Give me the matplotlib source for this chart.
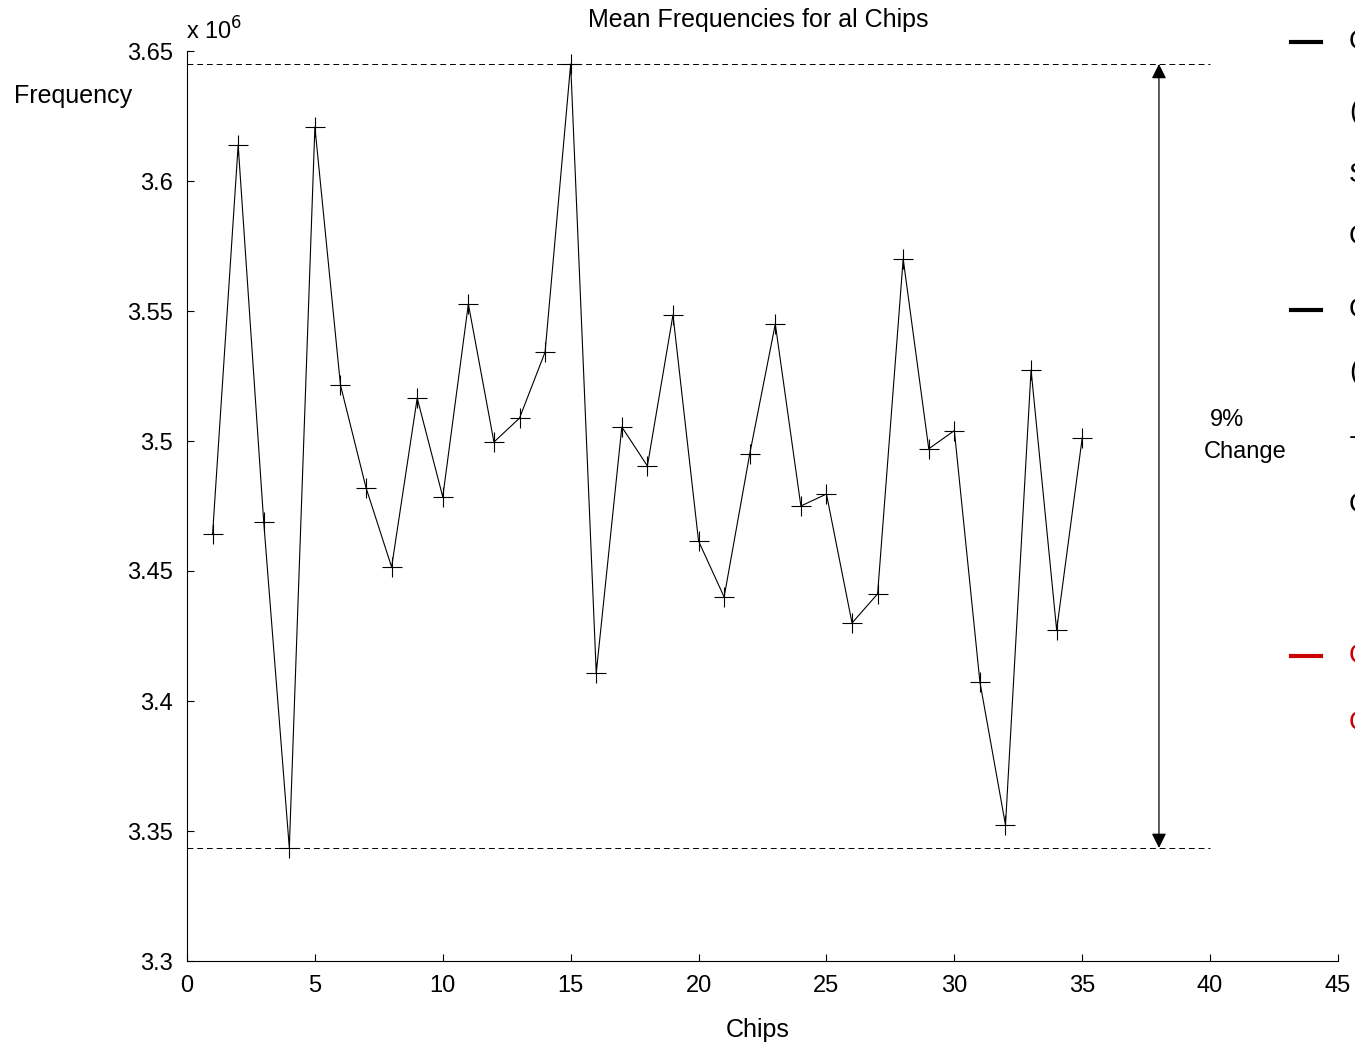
import matplotlib
matplotlib.use("Agg")
import matplotlib.pyplot as plt
from matplotlib.lines import Line2D
from matplotlib.ticker import FuncFormatter

plt.rcParams['font.family'] = ['Liberation Sans', 'DejaVu Sans']

chips = list(range(1, 36))
freq = [3.4642, 3.6138, 3.4688, 3.3435, 3.6208, 3.5215, 3.4820, 3.4515, 3.5165, 3.4785,
        3.5527, 3.4996, 3.5088, 3.5342, 3.6450, 3.4108, 3.5054, 3.4904, 3.5485, 3.4615,
        3.4400, 3.4950, 3.5450, 3.4750, 3.4796, 3.4300, 3.4412, 3.5700, 3.4970, 3.5040,
        3.4073, 3.3523, 3.5273, 3.4273, 3.5012]
xticks = [0, 5, 10, 15, 20, 25, 30, 35, 40, 45]
yticks = [3.3, 3.35, 3.4, 3.45, 3.5, 3.55, 3.6, 3.65]
title = "Mean Frequencies for al Chips"
legend_rows = [("k", ["C", "(", "S", "C"]), ("k", ["C", "(", "-", "C"]), ("#cc0000", ["C", "C"])]

FS = 17
FL = 18
W, H = 1355, 1042
fig = plt.figure(figsize=(W / 100, H / 100), dpi=100)
ax = fig.add_axes([187 / W, 1 - 961 / H, (1338 - 187) / W, (961 - 51) / H])

fmax, fmin = max(freq), min(freq)
ax.plot(chips, freq, color='k', lw=0.8, marker='+', ms=14, mew=0.8)
ax.plot([0, 40], [fmax, fmax], color='k', lw=0.7, ls=(0, (6, 4)))
ax.plot([0, 40], [fmin, fmin], color='k', lw=0.7, ls=(0, (6, 4)))
ax.annotate('', xy=(38, fmax), xytext=(38, fmin),
            arrowprops=dict(arrowstyle='<|-|>', color='k', lw=0.9,
                            mutation_scale=22, shrinkA=0, shrinkB=0))
fig.text(1227 / W, 1 - 420 / H, "9%", fontsize=FS, ha='center', va='center')
fig.text(1245 / W, 1 - 452 / H, "Change", fontsize=FS, ha='center', va='center')

ax.set_xlim(0, 45)
ax.set_ylim(3.3, 3.65)
ax.set_xticks(xticks)
ax.set_yticks(yticks)
ax.yaxis.set_major_formatter(FuncFormatter(lambda v, p: '%g' % round(v, 4)))
for s in ['top', 'right']:
    ax.spines[s].set_visible(False)
for s in ['left', 'bottom']:
    ax.spines[s].set_linewidth(0.8)
ax.tick_params(direction='in', length=5, width=0.8, labelsize=FS)
ax.tick_params(axis='x', pad=10)
ax.tick_params(axis='y', pad=10)

fig.text(758 / W, 1 - 20 / H, title, fontsize=FL, ha='center', va='center')
fig.text(758 / W, 1 - 1030 / H, "Chips", fontsize=FL, ha='center', va='center')
fig.text(14 / W, 1 - 96 / H, "Frequency", fontsize=FL, ha='left', va='center')
fig.text(186 / W, 1 - 31 / H, r"x 10$^{6}$", fontsize=FS, ha='left', va='center')

ys = [[42, 112, 175, 237], [310, 372, 437, 505], [656, 723]]
for (col, chars), yy in zip(legend_rows, ys):
    fig.add_artist(Line2D([1291 / W, 1321 / W], [1 - yy[0] / H, 1 - yy[0] / H],
                          color=col, lw=3, transform=fig.transFigure))
    for c, y in zip(chars, yy):
        fig.text(1349 / W, 1 - y / H, c + "hip", fontsize=FS + 3, color=col,
                 ha='left', va='center')

fig.savefig("out.png", dpi=100)
